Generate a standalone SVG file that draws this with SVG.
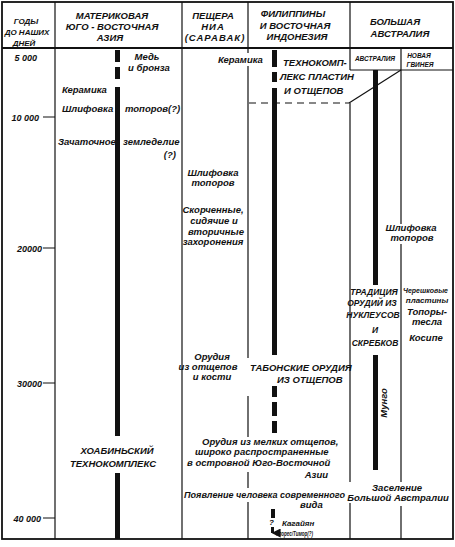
<svg xmlns="http://www.w3.org/2000/svg" width="455" height="547" viewBox="0 0 455 547">
<style>
text{font-family:"Liberation Sans",Arial,sans-serif;font-style:italic;font-weight:bold;fill:#111}
.h{font-size:9.5px}
.y{font-size:9px}
.t{font-size:9.5px}
.sm{font-size:8px}
.c{text-anchor:middle}
.e{text-anchor:end}
.ln{stroke:#111;stroke-width:1.2;fill:none}
.fr{stroke:#111;stroke-width:1.8;fill:none}
.bar{fill:#111}
</style>
<defs>
<marker id="ah" viewBox="0 0 10 10" refX="5" refY="9" markerWidth="3" markerHeight="3" orient="auto-start-reverse" markerUnits="strokeWidth">
<path d="M0,0 L10,0 L5,10 Z" fill="#111"/>
</marker>
</defs>
<rect width="455" height="547" fill="#fff"/>

<g id="frame">
<rect class="fr" x="2" y="2" width="451" height="537"/>
<line class="fr" x1="2" y1="48" x2="453" y2="48"/>
<line class="ln" x1="55" y1="2" x2="55" y2="539"/>
<line class="ln" x1="182" y1="2" x2="182" y2="539"/>
<path class="ln" d="M248,2V53M248,66V358M248,396V437M248,472V488M248,502V539"/>
<path class="ln" d="M350,2V70M350,103V482M350,503V539"/>
<path class="ln" d="M401,48V224M401,244V482M401,506V539"/>
<line class="ln" x1="350" y1="70" x2="453" y2="70"/>
<path class="ln" d="M43,117H55M43,248H55M43,383H55M43,518H55"/>
</g>

<g id="header">
<text class="sm c" x="26" y="24">ГОДЫ</text>
<text class="sm c" x="27" y="35">ДО НАШИХ</text>
<text class="sm c" x="24" y="45.5">ДНЕЙ</text>
<text class="h c" x="112" y="18.5">МАТЕРИКОВАЯ</text>
<text class="h c" x="112" y="29.5">ЮГО - ВОСТОЧНАЯ</text>
<text class="h c" x="110" y="40.5">АЗИЯ</text>
<text class="h c" x="213" y="18.5">ПЕЩЕРА</text>
<text class="h c" x="213" y="29.5" letter-spacing="1">НИА</text>
<text class="h c" x="215" y="40.5" letter-spacing="1">(САРАВАК)</text>
<text class="h c" x="293" y="17">ФИЛИППИНЫ</text>
<text class="h c" x="295" y="28.5">И ВОСТОЧНАЯ</text>
<text class="h c" x="297" y="39.5">ИНДОНЕЗИЯ</text>
<text class="h c" x="395" y="25">БОЛЬШАЯ</text>
<text class="h c" x="400" y="37">АВСТРАЛИЯ</text>
<text class="c" x="375" y="61" font-size="6.5">АВСТРАЛИЯ</text>
<text class="c" x="419" y="58" font-size="6.5">НОВАЯ</text>
<text class="c" x="420" y="67" font-size="6.5">ГВИНЕЯ</text>
</g>

<g id="years">
<text class="y e" x="37" y="61">5 000</text>
<text class="y e" x="39" y="120.5">10 000</text>
<text class="y e" x="42" y="251.5">20000</text>
<text class="y e" x="42" y="386.5">30000</text>
<text class="y e" x="41" y="521.5">40 000</text>
</g>

<g id="bars">
<rect class="bar" x="115" y="50" width="5" height="12"/>
<rect class="bar" x="115" y="67" width="5" height="12"/>
<rect class="bar" x="115" y="87" width="5" height="349"/>
<rect class="bar" x="115" y="473" width="5" height="66"/>
<rect class="bar" x="272" y="50" width="5" height="17"/>
<rect class="bar" x="272" y="72" width="5" height="10"/>
<rect class="bar" x="272" y="88" width="5" height="267"/>
<rect class="bar" x="272" y="386" width="5" height="11"/>
<rect class="bar" x="272" y="402" width="5" height="14"/>
<rect class="bar" x="272" y="421" width="5" height="12"/>
<rect class="bar" x="271" y="509" width="4" height="9"/>
<rect class="bar" x="373" y="70" width="5" height="215"/>
<rect class="bar" x="373" y="355" width="5" height="115"/>
</g>

<g id="connectors">
<line class="ln" x1="249" y1="103" x2="349" y2="103" stroke-dasharray="7 5"/>
<line class="ln" x1="349" y1="103" x2="401" y2="70"/>
<line x1="272.5" y1="527" x2="272.5" y2="533" stroke="#111" stroke-width="3" marker-end="url(#ah)"/>
</g>

<g id="mainland">
<text class="t c" x="147" y="60">Медь</text>
<text class="t c" x="149" y="71">и бронза</text>
<text class="t" x="62" y="93">Керамика</text>
<text class="t" x="62" y="112">Шлифовка</text>
<text class="t" x="125" y="112">топоров(?)</text>
<text class="t" x="58" y="145">Зачаточное</text>
<text class="t" x="123" y="145">земледелие</text>
<text class="t e" x="176" y="158">(?)</text>
<text class="h c" x="117" y="454" font-size="10">ХОАБИНЬСКИЙ</text>
<text class="h c" x="113" y="467" font-size="10">ТЕХНОКОМПЛЕКС</text>
</g>

<g id="niah">
<text class="t" x="218" y="63">Керамика</text>
<text class="t c" x="213" y="176">Шлифовка</text>
<text class="t c" x="213" y="186">топоров</text>
<text class="t c" x="213" y="213">Скорченные,</text>
<text class="t c" x="214" y="224">сидячие и</text>
<text class="t c" x="216" y="235">вторичные</text>
<text class="t c" x="213" y="245">захоронения</text>
<text class="t c" x="212" y="360">Орудия</text>
<text class="t c" x="208" y="370">из отщепов</text>
<text class="t c" x="212" y="380">и кости</text>
</g>

<g id="philippines">
<text class="h" x="283" y="66" font-size="9">ТЕХНОКОМП-</text>
<text class="h" x="280" y="80" font-size="9">ЛЕКС ПЛАСТИН</text>
<text class="h" x="284" y="94" font-size="9">И ОТЩЕПОВ</text>
<text class="h" x="250" y="371" font-size="9">ТАБОНСКИЕ ОРУДИЯ</text>
<text class="h" x="277" y="383" font-size="9">ИЗ ОТЩЕПОВ</text>
<text class="t" x="202" y="445">Орудия из мелких отщепов,</text>
<text class="t" x="195" y="455">широко распространенные</text>
<text class="t" x="187" y="466">в островной Юго-Восточной</text>
<text class="t e" x="328" y="478">Азии</text>
<text class="t" x="184" y="498" textLength="161" lengthAdjust="spacingAndGlyphs">Появление человека современного</text>
<text class="t" x="300" y="508">вида</text>
<text class="sm" x="269" y="525">?</text>
<text class="sm" x="282" y="526">Кагайян</text>
<text class="sm" x="275" y="536" textLength="38" lengthAdjust="spacingAndGlyphs">Флорес/Тимор(?)</text>
</g>

<g id="australia">
<text class="c" x="374" y="295" font-size="8.5">ТРАДИЦИЯ</text>
<text class="c" x="372" y="306" font-size="8.5">ОРУДИЙ ИЗ</text>
<text class="c" x="373" y="318" font-size="8.5">НУКЛЕУСОВ</text>
<text class="c" x="375" y="333" font-size="8.5">И</text>
<text class="c" x="375" y="346" font-size="8.5">СКРЕБКОВ</text>
<text class="t c" transform="translate(387,403) rotate(-90)" x="0" y="0">Мунго</text>
<text class="t c" x="397" y="491">Заселение</text>
<text class="t c" x="398" y="501">Большой Австралии</text>
</g>

<g id="newguinea">
<text class="t c" x="411" y="231">Шлифовка</text>
<text class="t c" x="412" y="241">топоров</text>
<text class="sm" x="403" y="293" textLength="45" lengthAdjust="spacingAndGlyphs">Черешковые</text>
<text class="sm c" x="427" y="303">пластины</text>
<text class="t c" x="427" y="315">Топоры-</text>
<text class="t c" x="427" y="325">тесла</text>
<text class="t c" x="426" y="341">Косипе</text>
</g>
</svg>
